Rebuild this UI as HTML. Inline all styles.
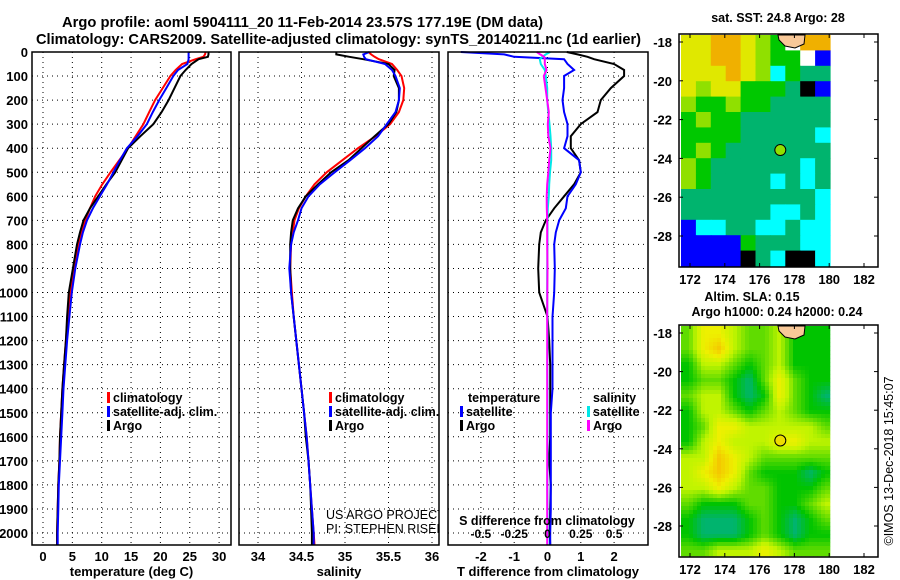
<!DOCTYPE html>
<html><head><meta charset="utf-8">
<style>
html,body{margin:0;padding:0;background:#fff;}
svg{display:block;font-family:"Liberation Sans",sans-serif;font-weight:bold;}
</style></head>
<body>
<svg id="chart" width="900" height="580" viewBox="0 0 900 580" xmlns="http://www.w3.org/2000/svg">
<text x="62" y="27" font-size="15" textLength="481" lengthAdjust="spacingAndGlyphs">Argo profile: aoml 5904111_20 11-Feb-2014 23.57S 177.19E (DM data)</text>
<text x="36" y="44" font-size="15" textLength="605" lengthAdjust="spacingAndGlyphs">Climatology: CARS2009. Satellite-adjusted climatology: synTS_20140211.nc (1d earlier)</text>
<defs><clipPath id="p2clip"><rect x="239" y="52" width="200" height="493"/></clipPath></defs>
<g id="plots"></g>
</svg>
<script>
// ---------- data ----------
const depths = [0,10,20,30,50,75,100,150,200,250,300,350,400,450,500,550,600,650,700,750,800,900,1000,1100,1200,1300,1400,1500,1600,1700,1800,1900,2000,2050];
const tempClim = [27.7,27.6,27.3,26.0,23.7,22.6,21.7,20.4,19.1,18.1,17.1,15.8,14.5,13.0,11.5,10.1,8.9,8.0,7.2,6.5,6.0,5.3,4.6,4.2,3.9,3.6,3.3,3.1,2.9,2.8,2.6,2.5,2.4,2.4];
const tempSat  = [24.8,24.8,24.8,24.8,24.6,23.0,22.2,21.0,19.8,18.7,17.7,16.1,14.3,13.1,12.0,10.9,9.7,8.5,7.5,6.8,6.3,5.5,4.9,4.5,4.1,3.8,3.5,3.3,3.1,2.9,2.7,2.6,2.5,2.5];
const tempArgo = [28.2,28.2,28.1,26.5,25.3,24.3,23.4,22.4,21.4,20.2,18.8,16.6,14.5,13.4,12.3,10.8,9.4,8.0,6.9,6.3,5.8,5.1,4.4,4.1,3.9,3.6,3.3,3.1,2.9,2.8,2.6,2.5,2.4,2.4];
const salClim = [35.27,35.30,35.34,35.39,35.54,35.60,35.65,35.68,35.67,35.62,35.52,35.35,35.15,34.97,34.79,34.65,34.55,34.47,34.42,34.40,34.38,34.37,34.39,34.41,34.44,34.47,34.50,34.53,34.56,34.58,34.60,34.62,34.64,34.65];
const salSat  = [35.28,35.21,35.22,35.24,35.46,35.54,35.58,35.63,35.62,35.58,35.48,35.38,35.23,35.06,34.88,34.71,34.58,34.50,34.46,34.41,34.38,34.36,34.38,34.41,34.44,34.47,34.50,34.53,34.56,34.58,34.60,34.62,34.64,34.64];
const salArgo = [34.90,34.90,35.05,35.21,35.50,35.57,35.56,35.62,35.62,35.59,35.50,35.34,35.19,35.04,34.84,34.69,34.55,34.46,34.40,34.38,34.37,34.37,34.38,34.41,34.44,34.47,34.50,34.53,34.55,34.58,34.60,34.61,34.62,34.62];
const dTsat  = [-2.6,-1.3,-1.0,0.5,0.6,0.8,0.5,0.5,0.45,0.5,0.6,0.6,0.5,0.95,1.0,0.85,0.6,0.55,0.35,0.25,0.2,0.22,0.2,0.15,0.15,0.15,0.15,0.1,0.1,0.1,0.1,0.1,0.08,0.08];
const dTargo = [0.58,0.9,1.2,1.4,2.0,2.3,2.3,1.9,1.6,1.5,1.0,0.7,0.7,0.95,1.0,0.8,0.5,0.2,-0.05,-0.2,-0.25,-0.28,-0.25,0.0,0.05,0.08,0.08,0.08,0.08,0.05,0.1,0.08,0.07,0.08];
const dSsat  = [0.08,-0.05,-0.15,-0.23,-0.2,-0.08,-0.05,-0.01,-0.01,0.025,0.06,0.09,0.11,0.11,0.075,0.05,0.04,0.01,0.0,0.0,0.0,-0.01,-0.01,-0.005,0.0,-0.005,0.0,0.0,0.0,0.0,-0.005,0.0,0.0,0.0];
const dSargo = [-0.32,-0.22,-0.1,-0.08,-0.08,-0.03,-0.11,-0.06,-0.01,0.04,0.01,0.025,0.09,0.05,0.025,-0.01,-0.025,-0.02,-0.01,-0.01,-0.01,0.0,-0.005,-0.01,-0.01,-0.01,-0.01,-0.01,-0.01,-0.01,-0.01,-0.01,-0.01,-0.01];
const depthTicks = [0,100,200,300,400,500,600,700,800,900,1000,1100,1200,1300,1400,1500,1600,1700,1800,1900,2000];
const tempTicks = [0,5,10,15,20,25,30];
const salTicks = [34,34.5,35,35.5,36];
const salTickLabels = ['34','34.5','35','35.5','36'];
const dTTicks = [-2,-1,0,1,2];
const dSTicks = [-0.5,-0.25,0,0.25,0.5];
const dSTickLabels = ['-0.5','-0.25','0','0.25','0.5'];
const lonTicks = [172,174,176,178,180,182];
const latTicks = [-18,-20,-22,-24,-26,-28];
// SST map colour classes (rows north->south, cols west->east)
const sstGrid = [
"5566543966","5566543390","5556541322","5455333280","4334332222",
"3433222222","3333222221","3432222222","4322222212","4322221212",
"2222222221","2222221121","0112211211","0000322211","0000821881"];
// SLA map level grid
const slaGrid = [
"2443223111","2453223111","1332123111","1221024211","2331014210",
"1332123211","1244333332","1343334433","3354322222","3454211101",
"3343221112","2111221123","1000121012","1000121011","2233343222"];

// ---------- helpers ----------
const NS='http://www.w3.org/2000/svg';
const root=document.getElementById('plots');
function mk(tag,attrs,parent){const e=document.createElementNS(NS,tag);for(const k in attrs)e.setAttribute(k,attrs[k]);(parent||root).appendChild(e);return e;}
function txt(x,y,s,size,anchor,parent){const t=mk('text',{x:x,y:y,'font-size':size,'text-anchor':anchor||'middle'},parent);t.textContent=s;return t;}
const TOP=52, BOT=545;
const yD=d=>TOP+d*0.2405;

function panel(name,x0,x1,xf,xticks,xlabels,title,series){
  const g=mk('g',{});
  
  
  xticks.forEach(v=>{const l=mk('line',{x1:xf(v),x2:xf(v),y1:TOP,y2:BOT,stroke:'#000','stroke-width':1,'stroke-dasharray':'1 4'},g);
    
    });
  depthTicks.forEach(d=>{const l=mk('line',{x1:x0,x2:x1,y1:yD(d),y2:yD(d),stroke:'#000','stroke-width':1,'stroke-dasharray':'1 4'},g);
    
    });
  series.forEach(s=>{
    const pts=depths.map((d,i)=>xf(s.v[i]).toFixed(1)+','+yD(d).toFixed(1)).join(' ');
    const p=mk('polyline',{points:pts,fill:'none',stroke:s.c,'stroke-width':2},g);
    
    
  });
  const r=mk('rect',{x:x0,y:TOP,width:x1-x0,height:BOT-TOP,fill:'none',stroke:'#000','stroke-width':1.5},g);
  
  
  if(xlabels) xticks.forEach((v,i)=>{const t=txt(xf(v),561,xlabels[i],13,'middle',g);
    
    });
  const tt=txt((x0+x1)/2,576,title,13,'middle',g);
  
  
  return g;
}
const xT=v=>43+v*5.87;
const xS=v=>258+(v-34)*87;
const xdT=v=>547.5+v*33.3;
const xdS=v=>547.5+v*4*33.3;

const g1=panel('temperature-panel',32,231,xT,tempTicks,tempTicks.map(String),'temperature (deg C)',
 [{v:tempClim,c:'#ff0000',n:'temp-climatology-line'},{v:tempArgo,c:'#000',n:'temp-argo-line'},{v:tempSat,c:'#0000ff',n:'temp-satellite-line'}]);
depthTicks.forEach(d=>{const t=txt(28,yD(d)+5,String(d),13,'end');
  
  });
const g2=panel('salinity-panel',239,439,xS,salTicks,salTickLabels,'salinity',
 [{v:salClim,c:'#ff0000',n:'sal-climatology-line'},{v:salArgo,c:'#000',n:'sal-argo-line'},{v:salSat,c:'#0000ff',n:'sal-satellite-line'}]);
const g3=panel('difference-panel',448,648,xdT,dTTicks,dTTicks.map(String),'T difference from climatology',
 [{v:dTargo,c:'#000',n:'dT-argo-line'},{v:dTsat,c:'#0000ff',n:'dT-satellite-line'},{v:dSsat,c:'#00e8e8',n:'dS-satellite-line'},{v:dSargo,c:'#ff00ff',n:'dS-argo-line'}]);
dSTicks.forEach((v,i)=>{const t=txt(xdS(v),538,dSTickLabels[i],12,'middle',g3);
  
  });
const st=txt(547,525,'S difference from climatology',12.5,'middle',g3);



function legendEntry(g,x,y,color,label,name){
  const l=mk('rect',{x:x,y:y-10,width:3,height:11,fill:color},g);
  
  
  const t=txt(x+6,y,label,12.5,'start',g);
  
  
}
[[g1,107],[g2,329]].forEach(([g,x])=>{
  legendEntry(g,x,402,'#ff0000','climatology','legend-climatology');
  legendEntry(g,x,416,'#0000ff','satellite-adj. clim.','legend-satellite');
  legendEntry(g,x,430,'#000','Argo','legend-argo');
});
const lt=txt(468,402,'temperature',12.5,'start',g3);


legendEntry(g3,460,416,'#0000ff','satellite','legend-t-satellite');
legendEntry(g3,460,430,'#000','Argo','legend-t-argo');
const ls=txt(593,402,'salinity',12.5,'start',g3);


legendEntry(g3,587,416,'#00e8e8','satellite','legend-s-satellite');
legendEntry(g3,587,430,'#ff00ff','Argo','legend-s-argo');
const cg=mk('g',{'clip-path':'url(#p2clip)'},g2);
const c1=txt(326,519,'US ARGO PROJECT',12.5,'start',cg);
c1.setAttribute('font-weight','normal');


const c2=txt(326,533,'PI: STEPHEN RISER',12.5,'start',cg);
c2.setAttribute('font-weight','normal');



// ---------- maps ----------
const sstColors=['#0000ff','#00ffff','#00b46e','#00c800','#90e000','#e0e800','#f0b000','#ff2000','#000000','#ffffff'];
const slaColors=[[0,180,110],[0,196,0],[96,220,0],[192,244,0],[238,240,0],[244,200,0]];
function map(name,top,bot,lat18,lat28,grid,colors,dot,dotColor,smooth){
  const g=mk('g',{});
  
  
  const L=679,R=878,dx0=681,dx1=830;
  const lonX=v=>690+(v-172)*17.4;
  const latY=v=>lat18+(v+18)/-10*(lat28-lat18);
  const rows=grid.length, cols=grid[0].length;
  if(!smooth){
    const cw=(dx1-dx0)/cols, ch=(bot-top-2)/rows;
    grid.forEach((row,i)=>{for(let j=0;j<cols;j++){
      const c=mk('rect',{x:(dx0+j*cw).toFixed(1),y:(top+1+i*ch).toFixed(1),width:(cw+0.6).toFixed(1),height:(ch+0.6).toFixed(1),fill:colors[+row[j]]},g);
      
      
    }});
  } else {
    const cs=4, nx=Math.ceil((dx1-dx0)/cs), ny=Math.ceil((bot-top-2)/cs);
    const val=(i,j)=>+grid[Math.max(0,Math.min(rows-1,i))][Math.max(0,Math.min(cols-1,j))];
    for(let a=0;a<ny;a++)for(let b=0;b<nx;b++){
      const fy=(a+0.5)/ny*rows-0.5, fx=(b+0.5)/nx*cols-0.5;
      const i0=Math.floor(fy), j0=Math.floor(fx), ty=fy-i0, tx=fx-j0;
      const v=(val(i0,j0)*(1-tx)+val(i0,j0+1)*tx)*(1-ty)+(val(i0+1,j0)*(1-tx)+val(i0+1,j0+1)*tx)*ty;
      const k=Math.min(colors.length-2,Math.floor(v)), f=v-k;
      const col=colors[k].map((c,n)=>Math.round(c*(1-f)+colors[k+1][n]*f));
      const w=Math.min(cs,dx1-(dx0+b*cs)), h=Math.min(cs,bot-1-(top+1+a*cs));
      const c=mk('rect',{x:dx0+b*cs,y:top+1+a*cs,width:w+0.3,height:h+0.3,fill:`rgb(${col.join(',')})`},g);
      
      
    }
  }
  const land=mk('path',{d:`M778 ${top+1} L805 ${top+1} L804 ${top+10} L795 ${top+14} L785 ${top+12} L779 ${top+6} Z`,fill:'#f8c898',stroke:'#000','stroke-width':1},g);
  
  
  const m=mk('circle',{cx:lonX(dot[0]),cy:latY(dot[1]),r:5.5,fill:dotColor,stroke:'#000','stroke-width':1},g);
  
  
  const fr=mk('rect',{x:L,y:top,width:R-L,height:bot-top,fill:'none',stroke:'#000','stroke-width':1.5},g);
  
  
  lonTicks.forEach(v=>{const x=lonX(v);
    mk('line',{x1:x,x2:x,y1:bot,y2:bot-4,stroke:'#000'},g);mk('line',{x1:x,x2:x,y1:top,y2:top+4,stroke:'#000'},g);
    const t=txt(x,bot+17,String(v),13,'middle',g);
    
    });
  latTicks.forEach(v=>{const y=latY(v);
    mk('line',{x1:L,x2:L+4,y1:y,y2:y,stroke:'#000'},g);mk('line',{x1:R,x2:R-4,y1:y,y2:y,stroke:'#000'},g);
    const t=txt(672,y+5,String(v),13,'end',g);
    
    });
  return g;
}
const floatPos=[177.19,-23.57];
const m1=map('sst-map',34,267,42,236,sstGrid,sstColors,floatPos,'#90e000',false);
const m2=map('sla-map',325,557,333,526,slaGrid,slaColors,floatPos,'#eedc00',true);
const t1=txt(778,22,'sat. SST: 24.8 Argo: 28',12.5,'middle',m1);


const t2=txt(752,301,'Altim. SLA: 0.15',12.5,'middle',m2);


const t3=txt(777,316,'Argo h1000: 0.24 h2000: 0.24',12.5,'middle',m2);


const cr=txt(0,0,'©IMOS 13-Dec-2018 15:45:07',12.5,'middle');
cr.setAttribute('font-weight','normal');
cr.setAttribute('transform','translate(893,461) rotate(-90)');


</script>
</body></html>
